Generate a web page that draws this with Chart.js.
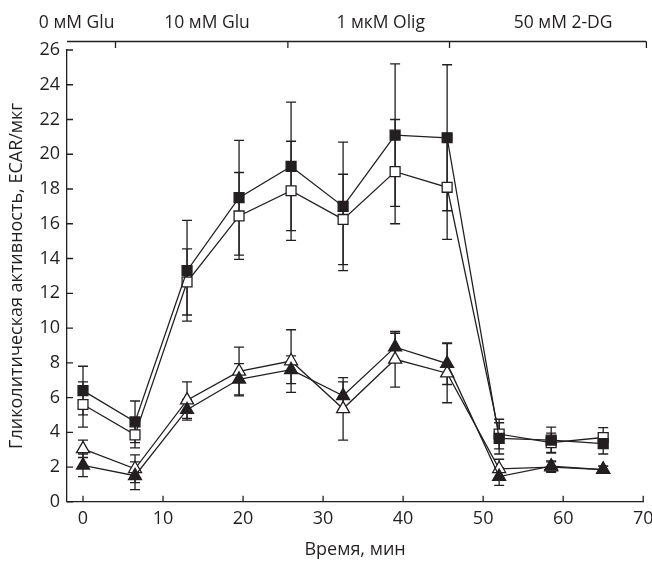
<!DOCTYPE html>
<html><head><meta charset="utf-8">
<script src="https://cdn.jsdelivr.net/npm/chart.js@4"></script>
<style>html,body{margin:0;padding:0;background:#fff}#wrap{width:652px;height:561px;position:relative}</style>
</head><body><div id="wrap"><canvas id="c" width="652" height="561"></canvas></div>
<script>
// ---- data ----
const times = [0, 6.5, 13, 19.5, 26, 32.5, 39, 45.5, 52, 58.5, 65];
const filledSquare    = [6.4, 4.6, 13.3, 17.5, 19.3, 17.0, 21.1, 20.95, 3.65, 3.55, 3.35];
const filledSquareErr = [1.4, 1.2, 2.9, 3.3, 3.7, 3.7, 4.1, 4.2, 0.9, 0.75, 0.6];
const openSquare      = [5.6, 3.85, 12.65, 16.45, 17.9, 16.25, 19.0, 18.1, 3.9, 3.4, 3.7];
const openSquareErr   = [1.3, 0.75, 1.9, 2.5, 2.85, 2.6, 3.0, 3.0, 0.85, 0.55, 0.57];
const filledTriangle    = [2.1, 1.5, 5.3, 7.05, 7.6, 6.1, 8.9, 7.95, 1.45, 2.05, 1.85];
const filledTriangleErr = [0.65, 0.8, 0.6, 0.9, 0.8, 0.8, 0.8, 1.2, 0.5, 0.3, 0.2];
const openTriangle      = [3.05, 1.9, 5.85, 7.5, 8.1, 5.35, 8.2, 7.4, 1.9, 2.0, 1.85];
const openTriangleErr   = [0.5, 0.8, 1.05, 1.4, 1.8, 1.8, 1.6, 1.7, 0.55, 0.3, 0.2];
const xTicks = [0, 10, 20, 30, 40, 50, 60, 70];
const yTicks = [0, 2, 4, 6, 8, 10, 12, 14, 16, 18, 20, 22, 24, 26];
const phaseLabels = ['0 мМ Glu', '10 мМ Glu', '1 мкМ Olig', '50 мМ 2-DG'];
const phaseLabelCenters = [-0.8, 15.5, 37.2, 60];
const phaseBounds = [4.06, 25.6, 45.8, 70.4];
const xTitle = 'Время, мин';
const yTitle = 'Гликолитическая активность, ECAR/мкг';

// ---- styling ----
const ink = '#231f20';
const FONT = "'Open Sans', 'Noto Sans', sans-serif";
const toPts = arr => arr.map((v, i) => ({ x: times[i], y: v }));
const series = [
  { vals: filledSquare,   err: filledSquareErr,   style: 'rect',     fill: ink,    r: 7 },
  { vals: openSquare,     err: openSquareErr,     style: 'rect',     fill: '#fff', r: 7 },
  { vals: filledTriangle, err: filledTriangleErr, style: 'triangle', fill: ink,    r: 7.5 },
  { vals: openTriangle,   err: openTriangleErr,   style: 'triangle', fill: '#fff', r: 7.5 }
];

const errorBarsPlugin = {
  id: 'errorBars',
  beforeDatasetsDraw(chart) {
    const { ctx } = chart, xs = chart.scales.x, ys = chart.scales.y;
    ctx.save();
    ctx.strokeStyle = ink; ctx.lineWidth = 1.3;
    series.forEach(s => {
      s.vals.forEach((v, i) => {
        const px = xs.getPixelForValue(times[i]);
        const y1 = ys.getPixelForValue(v + s.err[i]);
        const y2 = ys.getPixelForValue(v - s.err[i]);
        ctx.beginPath();
        ctx.moveTo(px, y1); ctx.lineTo(px, y2);
        ctx.moveTo(px - 5, y1); ctx.lineTo(px + 5, y1);
        ctx.moveTo(px - 5, y2); ctx.lineTo(px + 5, y2);
        ctx.stroke();
      });
    });
    ctx.restore();
  }
};

const framePlugin = {
  id: 'frame',
  afterDraw(chart) {
    const { ctx, chartArea } = chart, xs = chart.scales.x, ys = chart.scales.y;
    ctx.save();
    ctx.strokeStyle = ink; ctx.lineWidth = 1.3;
    ctx.beginPath();
    xTicks.forEach(v => { const p = xs.getPixelForValue(v); ctx.moveTo(p, chartArea.bottom); ctx.lineTo(p, chartArea.bottom - 6); });
    yTicks.forEach(v => { const p = ys.getPixelForValue(v); ctx.moveTo(chartArea.left, p); ctx.lineTo(chartArea.left + 6, p); });
    // phase line above plot
    const ty = chartArea.top - 8.5;
    ctx.moveTo(chartArea.left, ty);
    ctx.lineTo(xs.getPixelForValue(phaseBounds[phaseBounds.length - 1]), ty);
    phaseBounds.forEach(v => { const p = xs.getPixelForValue(v); ctx.moveTo(p, ty); ctx.lineTo(p, ty + 6.5); });
    ctx.stroke();
    ctx.fillStyle = ink;
    ctx.font = "17.5px " + FONT;
    ctx.textAlign = 'center'; ctx.textBaseline = 'alphabetic';
    phaseLabels.forEach((t, i) => ctx.fillText(t, xs.getPixelForValue(phaseLabelCenters[i]), 28));
    ctx.restore();
  }
};

new Chart(document.getElementById('c'), {
  type: 'line',
  data: {
    datasets: series.map(s => ({
      data: toPts(s.vals),
      borderColor: ink, borderWidth: 1.3, tension: 0, fill: false,
      pointStyle: s.style, pointRadius: s.r, pointHoverRadius: s.r,
      pointBackgroundColor: s.fill, pointBorderColor: ink, pointBorderWidth: 1.3
    }))
  },
  options: {
    responsive: false, animation: false, devicePixelRatio: 1,
    layout: { padding: { top: 50, right: 5, left: 0, bottom: 0 } },
    plugins: { legend: { display: false }, tooltip: { enabled: false } },
    scales: {
      x: {
        type: 'linear', min: -2, max: 70,
        grid: { display: false, drawTicks: false },
        border: { display: true, color: ink, width: 1.3 },
        afterBuildTicks: s => { s.ticks = xTicks.map(v => ({ value: v })); },
        afterFit: s => { s.paddingRight = 0; s.paddingLeft = 0; },
        ticks: { padding: 6, color: ink, font: { family: FONT, size: 18 } },
        title: { display: true, text: xTitle, color: ink, font: { family: FONT, size: 18 }, padding: { top: 4, bottom: 0 } }
      },
      y: {
        type: 'linear', min: 0, max: 26,
        grid: { display: false, drawTicks: false },
        border: { display: true, color: ink, width: 1.3 },
        afterBuildTicks: s => { s.ticks = yTicks.map(v => ({ value: v })); },
        afterFit: s => { s.width = 67; },
        ticks: { padding: 7, color: ink, font: { family: FONT, size: 18 } },
        title: { display: true, text: yTitle, color: ink, font: { family: FONT, size: 18 }, padding: { top: 6, bottom: 0 } }
      }
    }
  },
  plugins: [errorBarsPlugin, framePlugin]
});
</script>
</body></html>
